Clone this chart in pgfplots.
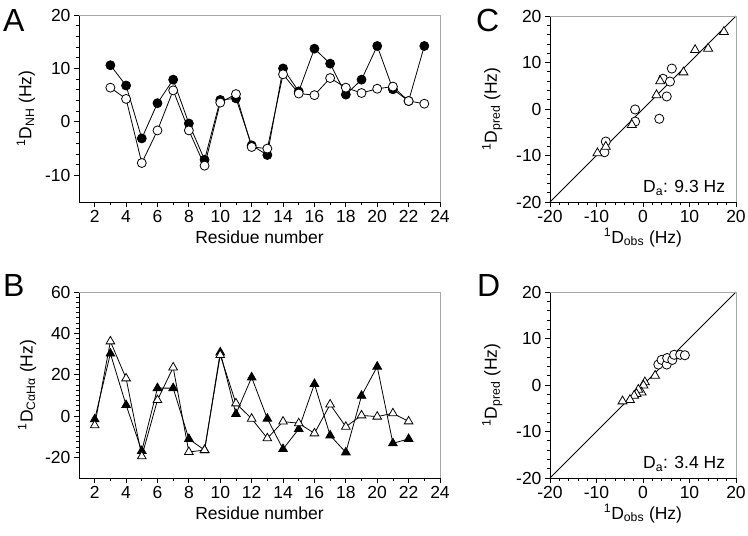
\documentclass[border=0pt]{standalone}
\usepackage{fontspec}
\setmainfont{Liberation Sans}
\usepackage{pgfplots}
\pgfplotsset{compat=1.18}

\newcommand{\lblfont}{\fontsize{17.5}{20}\selectfont}
\pgfplotsset{
 base/.style={
  scale only axis,
  axis x line*=bottom, axis y line*=left,
  axis line style={-, line width=0.8pt, black},
  tick align=outside,
  major tick length=5pt, minor tick length=3pt,
  every tick/.style={black, line width=0.8pt},
  /pgf/number format/assume math mode=true,
  tick label style={font=\lblfont},
  label style={font=\lblfont},
  clip=false,
  xlabel style={at={(axis description cs:0.5,0)}, anchor=base, yshift=-41pt},
  after end axis/.code={\draw[gray!70, line width=0.8pt] (rel axis cs:0,1) -- (rel axis cs:1,1) -- (rel axis cs:1,0);},
 },
 resid/.style={base, width=361pt, xmin=1, xmax=24, xtick={2,4,...,24}, minor x tick num=1,
  xlabel={Residue number}},
 corr/.style={base, width=186pt, height=186pt, xmin=-20, xmax=20, ymin=-20, ymax=20,
  xtick={-20,-10,0,10,20}, ytick={-20,-10,0,10,20}, minor tick num=4,
  xlabel={\textsuperscript{1}D\textsubscript{obs} (Hz)},
  ylabel={\textsuperscript{1}D\textsubscript{pred} (Hz)},
  ylabel style={at={(axis description cs:-0.31,0.5)}, anchor=center, rotate=0}},
 ln/.style={black, line width=0.8pt},
 fc/.style={ln, mark=*, mark size=4.5pt, mark options={fill=black, solid}},
 oc/.style={ln, mark=*, mark size=4.5pt, mark options={fill=white, solid}},
 ft/.style={ln, mark=triangle*, mark size=5pt, mark options={fill=black, solid}},
 ot/.style={ln, mark=triangle*, mark size=5pt, mark options={fill=white, solid}},
 soc/.style={only marks, mark=*, mark size=4.6pt, mark options={fill=white, draw=black, line width=0.8pt}},
 sot/.style={only marks, mark=triangle*, mark size=5.2pt, mark options={fill=white, draw=black, line width=0.8pt}},
}

\begin{document}
\begin{tikzpicture}[x=1pt,y=1pt]
\useasboundingbox (0,0) rectangle (748,-536);

% Panel A
\begin{axis}[resid, at={(79pt,-202pt)}, anchor=south west, height=187pt,
  ymin=-15, ymax=20, ytick={-10,0,10,20}, minor y tick num=4,
  ylabel={\textsuperscript{1}D\textsubscript{NH} (Hz)},
  ylabel style={at={(axis description cs:-0.147,0.5)}, anchor=center}]
\addplot[fc] coordinates {(3,10.6) (4,6.8) (5,-3.1) (6,3.5) (7,7.9) (8,-0.3) (9,-7.1) (10,4.1) (11,4.4) (12,-4.4) (13,-6.2) (14,10.0) (15,5.7) (16,13.7) (17,10.9) (18,5.1) (19,7.9) (20,14.2) (21,6.1) (22,3.9) (23,14.2)};
\addplot[oc] coordinates {(3,6.4) (4,4.3) (5,-7.7) (6,-1.6) (7,5.9) (8,-1.6) (9,-8.2) (10,3.6) (11,5.2) (12,-4.7) (13,-5.0) (14,8.9) (15,5.3) (16,5.0) (17,8.2) (18,6.4) (19,5.4) (20,6.2) (21,6.6) (22,3.9) (23,3.4)};
\end{axis}

% Panel B
\begin{axis}[resid, at={(79pt,-478pt)}, anchor=south west, height=186pt,
  ymin=-30, ymax=60, ytick={-20,0,20,40,60}, minor y tick num=7,
  ylabel={\textsuperscript{1}D\textsubscript{CαHα} (Hz)},
  ylabel style={at={(axis description cs:-0.144,0.5)}, anchor=center}]
\addplot[ft] coordinates {(2,-1.6) (3,30.2) (4,5.3) (5,-16.9) (6,13.5) (7,13.5) (8,-11.1) (9,-16.5) (10,30.8) (11,1.0) (12,18.7) (13,-1.3) (14,-16.0) (15,-6.3) (16,15.5) (17,-9.4) (18,-17.6) (19,9.8) (20,23.9) (21,-13.2) (22,-11.1)};
\addplot[ot] coordinates {(2,-4.5) (3,36.1) (4,18.2) (5,-19.5) (6,7.7) (7,23.5) (8,-17.4) (9,-16.5) (10,29.5) (11,6.1) (12,-1.3) (13,-10.8) (14,-2.7) (15,-3.5) (16,-8.4) (17,5.6) (18,-5.2) (19,0.3) (20,-0.3) (21,1.3) (22,-2.6)};
\end{axis}

% Panel C
\begin{axis}[corr, at={(550pt,-202pt)}, anchor=south west]
\addplot[ln] coordinates {(-20,-20) (20,20)};
\addplot[soc] coordinates {(6.2,8.7) (4.3,6.5) (5.8,5.9) (5.1,2.7) (3.5,-2.1) (-1.7,-0.1) (-1.7,-2.7) (-8.0,-7.0) (-8.3,-9.3)};
\addplot[sot] coordinates {(17.4,16.6) (11.2,12.7) (14.0,13.0) (8.7,7.9) (3.7,6.0) (2.9,3.0) (-2.4,-3.4) (-8.0,-8.1) (-9.8,-9.5)};
\node[anchor=base east, font=\lblfont] at (rel axis cs:0.96,0.05) {D\textsubscript{a}: 9.3 Hz};
\end{axis}

% Panel D
\begin{axis}[corr, at={(550pt,-478pt)}, anchor=south west]
\addplot[ln] coordinates {(-20,-20) (20,20)};
\addplot[soc] coordinates {(3.3,4.4) (4.0,5.4) (5.1,4.4) (5.2,5.8) (6.3,5.4) (6.7,6.5) (8.0,6.5) (9.0,6.4)};
\addplot[sot] coordinates {(2.6,2.0) (0.4,0.6) (0.1,-0.1) (-0.3,-1.6) (-1.0,-1.0) (-1.4,-1.9) (-1.9,-2.3) (-2.8,-3.2) (-4.4,-3.5)};
\node[anchor=base east, font=\lblfont] at (rel axis cs:0.96,0.05) {D\textsubscript{a}: 3.4 Hz};
\end{axis}

\node[anchor=base west, font=\fontsize{32}{34}\selectfont, inner sep=0pt] at (3,-31) {A};
\node[anchor=base west, font=\fontsize{32}{34}\selectfont, inner sep=0pt] at (3,-296) {B};
\node[anchor=base west, font=\fontsize{32}{34}\selectfont, inner sep=0pt] at (476,-31) {C};
\node[anchor=base west, font=\fontsize{32}{34}\selectfont, inner sep=0pt] at (477,-296) {D};
\end{tikzpicture}
\end{document}
